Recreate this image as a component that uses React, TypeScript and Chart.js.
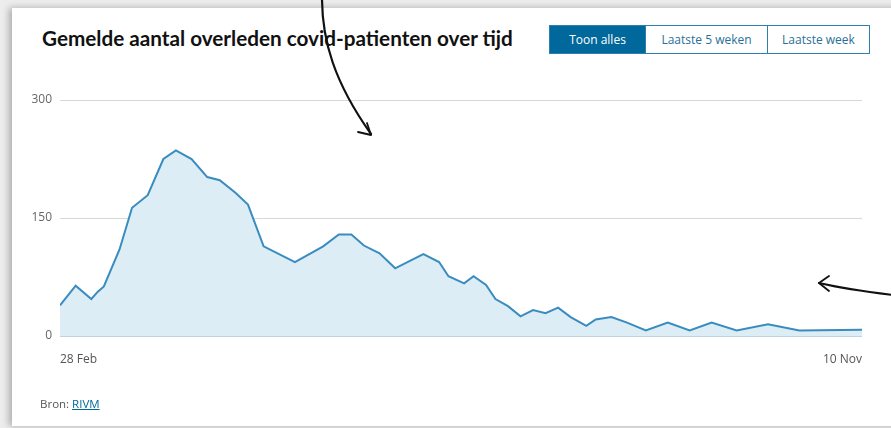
import React, { useEffect, useRef } from 'react';
import { Chart, registerables } from 'chart.js';

Chart.register(...registerables);

const TITLE = 'Gemelde aantal overleden covid-patienten over tijd';
const RANGE_BUTTONS = ['Toon alles', 'Laatste 5 weken', 'Laatste week'];
const BUTTON_WIDTHS = [95, 122, 102];
// days since 28 Feb
const DAYS = [0, 5, 10, 12, 14, 19, 23, 28, 33, 37, 42, 47, 51, 56, 60, 65, 75, 84, 89, 93, 97, 102, 107, 112, 116, 121, 124, 129, 132, 136, 139, 143, 147, 151, 155, 159, 163, 168, 171, 176, 181, 187, 194, 201, 208, 216, 226, 236, 256];
const DEATHS = [39, 64, 47, 56, 63, 110, 163, 179, 225, 236, 225, 202, 198, 182, 167, 114, 94, 114, 129, 129, 115, 105, 86, 96, 104, 94, 76, 67, 76, 65, 47, 38, 25, 33, 29, 36, 24, 13, 21, 24, 17, 7, 17, 7, 17, 7, 15, 7, 8];
const Y_TICKS = [0, 150, 300];
const X_TICKS = [0, 256];
const X_TICK_LABELS = ['28 Feb', '10 Nov'];
const SOURCE_LABEL = 'Bron: ';
const SOURCE = 'RIVM';

const FONT = '"Open Sans", "Noto Sans", sans-serif';
const TITLE_FONT = 'Lato, "Open Sans", sans-serif';
const BLUE = '#01689b';

export default function App() {
  const canvasRef = useRef<HTMLCanvasElement | null>(null);

  useEffect(() => {
    const canvas = canvasRef.current;
    if (!canvas) return;
    const chart = new Chart(canvas, {
      type: 'line',
      data: {
        datasets: [
          {
            data: DAYS.map((d, i) => ({ x: d, y: DEATHS[i] })),
            borderColor: '#3a8cbf',
            borderWidth: 2,
            backgroundColor: '#dcedf6',
            fill: 'origin',
            pointRadius: 0,
            tension: 0,
          },
        ],
      },
      options: {
        animation: false,
        responsive: false,
        maintainAspectRatio: false,
        layout: { padding: { left: 0, right: 29, top: 100, bottom: 62 } },
        plugins: { legend: { display: false }, tooltip: { enabled: false } },
        scales: {
          x: {
            type: 'linear',
            min: 0,
            max: 256,
            grid: { display: false },
            border: { display: false },
            afterBuildTicks: (s: any) => {
              s.ticks = X_TICKS.map((v) => ({ value: v }));
            },
            afterFit: (s: any) => {
              s.height = 30;
            },
            ticks: {
              align: 'inner',
              maxRotation: 0,
              autoSkip: false,
              padding: 8,
              color: '#555',
              font: { family: FONT, size: 12 },
              callback: (v: any) => {
                const i = X_TICKS.indexOf(Number(v));
                return i >= 0 ? X_TICK_LABELS[i] : '';
              },
            },
          },
          y: {
            min: 0,
            max: 300,
            afterBuildTicks: (s: any) => {
              s.ticks = Y_TICKS.map((v) => ({ value: v }));
            },
            afterFit: (s: any) => {
              s.width = 60;
            },
            grid: {
              drawTicks: false,
              color: (ctx: any) => (ctx.tick && ctx.tick.value === 0 ? '#c3d2dc' : '#d8d8d8'),
            },
            border: { display: false },
            ticks: {
              padding: 8,
              color: '#666',
              font: { family: FONT, size: 12 },
            },
          },
        },
      },
    } as any);
    return () => chart.destroy();
  }, []);

  return (
    <div
      style={{
        position: 'fixed',
        left: 0,
        top: 0,
        width: 891,
        height: 428,
        overflow: 'hidden',
        background: '#ededed',
        fontFamily: FONT,
      }}
    >
      <div
        style={{
          position: 'absolute',
          left: 12,
          top: 8,
          width: 900,
          height: 418,
          background: '#fff',
          boxShadow: '-3px 0 7px rgba(0,0,0,0.28)',
        }}
      />
      <div
        style={{
          position: 'absolute',
          left: 42,
          top: 24,
          fontFamily: TITLE_FONT,
          fontSize: 20.7,
          lineHeight: '28px',
          fontWeight: 700,
          color: '#111',
          whiteSpace: 'nowrap',
        }}
      >
        {TITLE}
      </div>
      <div
        style={{
          position: 'absolute',
          left: 549,
          top: 25,
          height: 29,
          boxSizing: 'border-box',
          border: `1px solid #2f7fae`,
          display: 'flex',
        }}
      >
        {RANGE_BUTTONS.map((label, i) => {
          const active = i === 0;
          return (
            <div
              key={label}
              style={{
                width: BUTTON_WIDTHS[i],
                height: 27,
                boxSizing: 'border-box',
                background: active ? BLUE : '#fff',
                color: active ? '#fff' : '#2a6f98',
                borderLeft: i > 0 ? `1px solid #2f7fae` : 'none',
                fontSize: 12,
                lineHeight: '27px',
                textAlign: 'center',
                whiteSpace: 'nowrap',
              }}
            >
              {label}
            </div>
          );
        })}
      </div>
      <canvas
        ref={canvasRef}
        width={891}
        height={428}
        style={{ position: 'absolute', left: 0, top: 0, width: 891, height: 428 }}
      />
      <div
        style={{
          position: 'absolute',
          left: 40,
          top: 396,
          fontSize: 11.5,
          lineHeight: '16px',
          color: '#555',
          whiteSpace: 'nowrap',
        }}
      >
        {SOURCE_LABEL}
        <span style={{ color: BLUE, textDecoration: 'underline' }}>{SOURCE}</span>
      </div>
      <svg
        width={891}
        height={428}
        style={{ position: 'absolute', left: 0, top: 0, pointerEvents: 'none' }}
      >
        <g fill="none" stroke="#111" strokeWidth={2.2} strokeLinecap="round" strokeLinejoin="round">
          <path d="M322,-2 C322,40 334,82 371,134" />
          <path d="M358,132 L371,135 L367,123" strokeWidth={1.8} />
          <path d="M819,283 C845,289 868,292 893,295" />
          <path d="M829,276 L819,283 L829,291" strokeWidth={1.8} />
        </g>
      </svg>
    </div>
  );
}
